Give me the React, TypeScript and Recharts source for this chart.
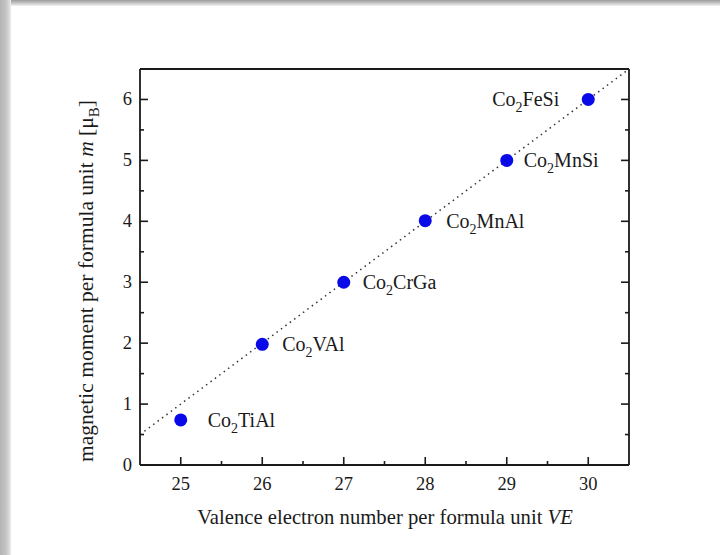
import React from "react";
import {
  ComposedChart,
  Scatter,
  XAxis,
  YAxis,
  ReferenceLine,
  LabelList,
} from "recharts";

// ---- data ----
const compounds = ["Co2TiAl", "Co2VAl", "Co2CrGa", "Co2MnAl", "Co2MnSi", "Co2FeSi"];
const valenceElectrons = [25, 26, 27, 28, 29, 30];
const magneticMoments = [0.74, 1.98, 3.0, 4.01, 5.0, 6.0];

const slaterPaulingVE = [24.5, 30.5];
const slaterPaulingM = [0.5, 6.5];

const xTicks = [25, 25.5, 26, 26.5, 27, 27.5, 28, 28.5, 29, 29.5, 30];
const yTicks = [0, 0.5, 1, 1.5, 2, 2.5, 3, 3.5, 4, 4.5, 5, 5.5, 6];
const xDomain = [24.5, 30.5];
const yDomain = [0, 6.5];

// ---- styles ----
const FONT = '"Liberation Serif", "Times New Roman", serif';
const AXIS_COLOR = "#1a1a1a";
const TEXT_COLOR = "#1a1a1a";
const DOT_COLOR = "#0a0ae8";
const MAJOR = 8;
const MINOR = 4;
// label placement style per compound (left/right of marker, gap in px)
const labelStyle: Record<string, { side: "left" | "right"; gap: number }> = {
  Co2TiAl: { side: "right", gap: 27 },
  Co2VAl: { side: "right", gap: 20 },
  Co2CrGa: { side: "right", gap: 19 },
  Co2MnAl: { side: "right", gap: 21 },
  Co2MnSi: { side: "right", gap: 17 },
  Co2FeSi: { side: "left", gap: 29 },
};

const points = compounds.map((name, i) => ({
  name,
  ve: valenceElectrons[i],
  m: magneticMoments[i],
}));

const isMajor = (v: number) => Math.abs(v - Math.round(v)) < 1e-9;

const BottomTick = (props: any) => {
  const { x, y, payload } = props;
  const major = isMajor(payload.value);
  return (
    <g>
      <line x1={x} y1={y} x2={x} y2={y - (major ? MAJOR : MINOR)} stroke={AXIS_COLOR} strokeWidth={1.6} />
      {major && (
        <text x={x} y={y + 25} textAnchor="middle" fontFamily={FONT} fontSize={18.5} fill={TEXT_COLOR}>
          {payload.value}
        </text>
      )}
    </g>
  );
};
const TopTick = (props: any) => {
  const { x, y, payload } = props;
  const major = isMajor(payload.value);
  return <line x1={x} y1={y} x2={x} y2={y + (major ? MAJOR : MINOR)} stroke={AXIS_COLOR} strokeWidth={1.6} />;
};
const LeftTick = (props: any) => {
  const { x, y, payload } = props;
  const major = isMajor(payload.value);
  return (
    <g>
      <line x1={x} y1={y} x2={x + (major ? MAJOR : MINOR)} y2={y} stroke={AXIS_COLOR} strokeWidth={1.6} />
      {major && (
        <text x={x - 8} y={y + 6} textAnchor="end" fontFamily={FONT} fontSize={18.5} fill={TEXT_COLOR}>
          {payload.value}
        </text>
      )}
    </g>
  );
};
const RightTick = (props: any) => {
  const { x, y, payload } = props;
  const major = isMajor(payload.value);
  return <line x1={x} y1={y} x2={x - (major ? MAJOR : MINOR)} y2={y} stroke={AXIS_COLOR} strokeWidth={1.6} />;
};

const Formula = ({ name }: { name: string }) => {
  const m = name.match(/^([A-Za-z]+?)(\d)(.*)$/);
  if (!m) return <>{name}</>;
  return (
    <>
      <tspan>{m[1]}</tspan>
      <tspan dy={6} fontSize={14}>{m[2]}</tspan>
      <tspan dy={-6}>{m[3]}</tspan>
    </>
  );
};

const CompoundLabel = (props: any) => {
  const { x, y, width, height, value } = props;
  const cx = x + (width || 0) / 2;
  const cy = y + (height || 0) / 2;
  const st = labelStyle[value] || { side: "right", gap: 18 };
  const tx = st.side === "right" ? cx + st.gap : cx - st.gap;
  return (
    <text
      x={tx}
      y={cy + 7}
      textAnchor={st.side === "right" ? "start" : "end"}
      fontFamily={FONT}
      fontSize={20}
      fill={TEXT_COLOR}
    >
      <Formula name={value} />
    </text>
  );
};

const Dot = (props: any) => {
  const { cx, cy } = props;
  return <circle cx={cx} cy={cy} r={6.5} fill={DOT_COLOR} />;
};

export default function App() {
  return (
    <div style={{ position: "absolute", left: 0, top: 0, width: 720, height: 555, background: "#fff", overflow: "hidden" }}>
      <div style={{ position: "absolute", left: 0, top: 0, width: 720, height: 6, background: "linear-gradient(to bottom, #9c9c9c, #c4c4c4 50%, #f2f2f2)" }} />
      <div style={{ position: "absolute", left: 0, top: 0, width: 11, height: 555, background: "linear-gradient(to right, #b4b4b4, #c4c4c4 55%, #e2e2e2 92%, #f4f4f4)" }} />
      <div style={{ position: "absolute", left: 0, top: 0 }}>
        <ComposedChart width={720} height={555} data={points} margin={{ top: 59, right: 81, bottom: 60, left: 100 }}>
          <XAxis
            xAxisId="bottom"
            dataKey="ve"
            type="number"
            domain={xDomain}
            ticks={xTicks}
            interval={0}
            height={30}
            tickSize={0}
            tickMargin={0}
            tickLine={false}
            tick={<BottomTick />}
            axisLine={{ stroke: AXIS_COLOR, strokeWidth: 1.8 }}
            allowDataOverflow
          />
          <XAxis
            xAxisId="top"
            orientation="top"
            type="number"
            domain={xDomain}
            ticks={xTicks}
            interval={0}
            height={10}
            tickSize={0}
            tickMargin={0}
            tickLine={false}
            tick={<TopTick />}
            axisLine={{ stroke: AXIS_COLOR, strokeWidth: 1.8 }}
            allowDataOverflow
          />
          <YAxis
            yAxisId="left"
            dataKey="m"
            type="number"
            domain={yDomain}
            ticks={yTicks}
            interval={0}
            width={40}
            tickSize={0}
            tickMargin={0}
            tickLine={false}
            tick={<LeftTick />}
            axisLine={{ stroke: AXIS_COLOR, strokeWidth: 1.8 }}
            allowDataOverflow
          />
          <YAxis
            yAxisId="right"
            orientation="right"
            type="number"
            domain={yDomain}
            ticks={yTicks}
            interval={0}
            width={10}
            tickSize={0}
            tickMargin={0}
            tickLine={false}
            tick={<RightTick />}
            axisLine={{ stroke: AXIS_COLOR, strokeWidth: 1.8 }}
            allowDataOverflow
          />
          <ReferenceLine
            xAxisId="bottom"
            yAxisId="left"
            segment={[
              { x: slaterPaulingVE[0], y: slaterPaulingM[0] },
              { x: slaterPaulingVE[1], y: slaterPaulingM[1] },
            ]}
            stroke="#333"
            strokeWidth={1.5}
            strokeDasharray="1.5 4"
            ifOverflow="hidden"
          />
          <Scatter
            xAxisId="bottom"
            yAxisId="left"
            data={points}
            dataKey="m"
            shape={<Dot />}
            isAnimationActive={false}
          >
            <LabelList dataKey="name" content={<CompoundLabel />} />
          </Scatter>
        </ComposedChart>
      </div>
      <svg width={720} height={555} style={{ position: "absolute", left: 0, top: 0, pointerEvents: "none" }}>
        <text x={385} y={524} textAnchor="middle" fontFamily={FONT} fontSize={20.7} fill={TEXT_COLOR}>
          Valence electron number per formula unit <tspan fontStyle="italic">VE</tspan>
        </text>
        <text
          x={93}
          y={281}
          textAnchor="middle"
          fontFamily={FONT}
          fontSize={21.5}
          fill={TEXT_COLOR}
          transform="rotate(-90 93 281)"
        >
          magnetic moment per formula unit <tspan fontStyle="italic">m</tspan> [μ
          <tspan dy={6} fontSize={15}>B</tspan>
          <tspan dy={-6}>]</tspan>
        </text>
      </svg>
    </div>
  );
}
